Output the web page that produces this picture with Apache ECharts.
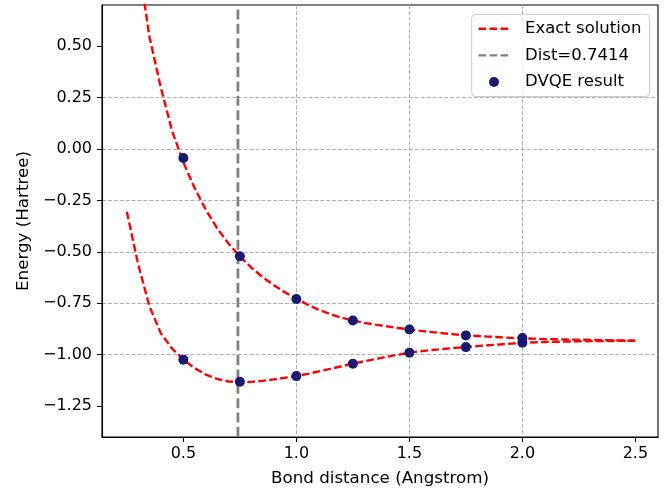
<!DOCTYPE html>
<html>
<head>
<meta charset="utf-8">
<script src="https://cdn.jsdelivr.net/npm/echarts@6/dist/echarts.min.js"></script>
<style>
html,body{margin:0;padding:0;background:#fff;}
#chart{width:665px;height:489px;}
</style>
</head>
<body>
<div id="chart"></div>
<script>
// ---- data ----
const exactX = [0.25,0.30,0.35,0.40,0.45,0.50,0.55,0.60,0.65,0.70,0.75,0.80,0.85,0.90,0.95,1.00,1.05,1.10,1.15,1.20,1.25,1.30,1.35,1.40,1.45,1.50,1.55,1.60,1.65,1.70,1.75,1.80,1.85,1.90,1.95,2.00,2.05,2.10,2.15,2.20,2.25,2.30,2.35,2.40,2.45,2.50];
const exactLower = [-0.305,-0.56,-0.765,-0.895,-0.970,-1.024,-1.065,-1.097,-1.118,-1.13,-1.134,-1.132,-1.127,-1.12,-1.112,-1.104,-1.093,-1.081,-1.069,-1.056,-1.044,-1.032,-1.021,-1.010,-1.000,-0.990,-0.983,-0.977,-0.972,-0.967,-0.963,-0.958,-0.954,-0.950,-0.946,-0.942,-0.940,-0.938,-0.937,-0.936,-0.935,-0.934,-0.933,-0.933,-0.932,-0.932];
const exactUpper = [1.40,0.92,0.545,0.30,0.088,-0.065,-0.19,-0.297,-0.386,-0.46,-0.522,-0.576,-0.622,-0.662,-0.697,-0.728,-0.757,-0.782,-0.803,-0.820,-0.834,-0.845,-0.854,-0.862,-0.870,-0.877,-0.884,-0.890,-0.896,-0.901,-0.906,-0.909,-0.912,-0.915,-0.918,-0.920,-0.922,-0.924,-0.925,-0.926,-0.927,-0.928,-0.929,-0.930,-0.931,-0.932];
const dvqeX = [0.5,0.75,1.0,1.25,1.5,1.75,2.0];
const dvqeLower = [-1.024,-1.131,-1.104,-1.044,-0.990,-0.963,-0.942];
const dvqeUpper = [-0.044,-0.521,-0.729,-0.834,-0.877,-0.906,-0.919];
const bondDist = 0.7414;
const xTicks = [0.5,1.0,1.5,2.0,2.5];
const yTicks = [-1.25,-1.0,-0.75,-0.5,-0.25,0,0.25,0.5];
const xRange = [0.14, 2.6];
const yRange = [-1.4, 0.7];

// ---- chart ----
const FONT = 'DejaVu Sans';
const pair = (xs, ys) => xs.map((x, i) => [x, ys[i]]);
const minus = s => s.replace('-', '\u2212');
const chart = echarts.init(document.getElementById('chart'));
const exactStyle = {color: '#ff0000', width: 2.4, type: [7.7, 3.3]};
const option = {
  animation: false,
  backgroundColor: '#ffffff',
  grid: {left: 102, right: 7, top: 5, bottom: 52, outerBoundsMode: 'none', containLabel: false, show: true, borderColor: '#000', borderWidth: 1.1, backgroundColor: 'transparent'},
  xAxis: {
    type: 'value', min: xRange[0], max: xRange[1], minInterval: 0.5, maxInterval: 0.5,
    name: 'Bond distance (Angstrom)', nameLocation: 'middle', nameGap: 33,
    nameTextStyle: {fontFamily: FONT, fontSize: 16.7, color: '#000'},
    axisLine: {show: true, onZero: false, lineStyle: {color: '#000', width: 1.1}},
    axisTick: {show: true, customValues: xTicks, length: 5, lineStyle: {color: '#000', width: 1}},
    axisLabel: {customValues: xTicks, margin: 9, fontFamily: FONT, fontSize: 16, color: '#000', formatter: v => minus(v.toFixed(1))},
    splitLine: {show: true, showMinLine: false, showMaxLine: false, lineStyle: {color: '#b0b0b0', width: 1, type: [4.1, 1.8]}}
  },
  yAxis: {
    type: 'value', min: yRange[0], max: yRange[1], minInterval: 0.25, maxInterval: 0.25,
    name: 'Energy (Hartree)', nameLocation: 'middle', nameGap: 68,
    nameTextStyle: {fontFamily: FONT, fontSize: 16.7, color: '#000'},
    axisLine: {show: true, onZero: false, lineStyle: {color: '#000', width: 1.1}},
    axisTick: {show: true, customValues: yTicks, length: 5, lineStyle: {color: '#000', width: 1}},
    axisLabel: {customValues: yTicks, margin: 10, fontFamily: FONT, fontSize: 16, color: '#000', formatter: v => minus(v.toFixed(2))},
    splitLine: {show: true, showMinLine: false, showMaxLine: false, lineStyle: {color: '#b0b0b0', width: 1, type: [4.1, 1.8]}}
  },
  legend: {
    orient: 'vertical', left: 471.7, top: 14.3, itemWidth: 31, itemHeight: 10, itemGap: 9.6,
    padding: [6, 8, 6, 5.6], borderColor: '#cccccc', borderWidth: 1, borderRadius: 4,
    backgroundColor: 'rgba(255,255,255,0.8)', selectedMode: false,
    textStyle: {fontFamily: FONT, fontSize: 16.5, color: '#000', lineHeight: 17, padding: [0, 0, 0, 10.5]},
    data: [
      {name: 'Exact solution', itemStyle: {opacity: 0}, lineStyle: {width: 2.4, type: [7.7, 3.3]}},
      {name: 'Dist=0.7414', itemStyle: {opacity: 0}, lineStyle: {width: 2.4, type: [7.7, 3.3]}},
      {name: 'DVQE result', icon: 'circle'}
    ]
  },
  series: [
    {name: 'Exact solution', type: 'line', data: pair(exactX, exactLower), symbol: 'none', lineStyle: exactStyle, itemStyle: {color: '#ff0000'}, clip: true, z: 2},
    {name: 'Exact solution', type: 'line', data: pair(exactX, exactUpper), symbol: 'none', lineStyle: exactStyle, itemStyle: {color: '#ff0000'}, clip: true, z: 2},
    {name: 'Dist=0.7414', type: 'line', data: [[bondDist, yRange[0]], [bondDist, yRange[1]]], symbol: 'none', lineStyle: {color: '#808080', width: 2.8, type: [10, 4.4]}, itemStyle: {color: '#808080'}, z: 3},
    {name: 'DVQE result', type: 'scatter', data: pair(dvqeX, dvqeLower), symbolSize: 10, itemStyle: {color: '#191970', opacity: 1}, z: 4},
    {name: 'DVQE result', type: 'scatter', data: pair(dvqeX, dvqeUpper), symbolSize: 10, itemStyle: {color: '#191970', opacity: 1}, z: 4}
  ]
};
chart.setOption(option);
</script>
</body>
</html>
